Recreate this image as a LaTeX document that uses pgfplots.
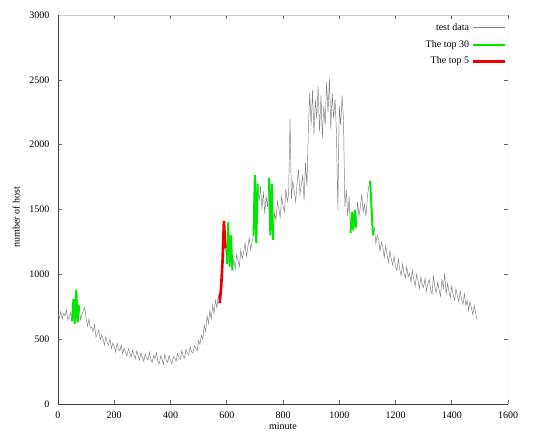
\documentclass[border=0pt]{standalone}
\usepackage{fontspec}
\setmainfont{Liberation Serif}
\usepackage{pgfplots}
\pgfplotsset{compat=1.18}
\definecolor{tdgray}{RGB}{128,128,128}
\definecolor{topgreen}{RGB}{0,230,0}
\definecolor{topred}{RGB}{235,0,0}
\newcommand{\smallfont}{\fontsize{7.5}{9}\selectfont}

\begin{document}
\begin{tikzpicture}
\begin{axis}[
  width=337.5pt, height=291.75pt, scale only axis,
  xmin=0, xmax=1600, ymin=0, ymax=3000,
  xtick={0,200,...,1600}, ytick={0,500,...,3000},
  /pgf/number format/assume math mode=true,
  /pgf/number format/1000 sep={},
  tick label style={font=\smallfont},
  xticklabel style={yshift=-2.5pt},
  yticklabel style={xshift=-3pt},
  tick align=inside, major tick length=3pt,
  tick style={black!60, line width=0.4pt},
  axis line style={draw=none},
  xlabel={minute}, ylabel={number of host},
  label style={font=\smallfont},
  xlabel style={at={(axis description cs:0.5,-0.046)}, anchor=north, inner sep=0.5pt},
  ylabel style={at={(axis description cs:-0.093,0.48)}, anchor=center},
  unbounded coords=jump,
  legend style={draw=none, fill=none, font=\smallfont,
    at={(axis description cs:1.0,0.99)}, anchor=north east,
    row sep=2pt, inner sep=1pt},
  legend cell align=right,
  legend plot pos=right,
  legend image code/.code={\draw[#1] (0pt,0pt) -- (24pt,0pt);},
]
\draw[black!20, line width=0.5pt] (rel axis cs:0,1) -- (rel axis cs:1,1) -- (rel axis cs:1,0);
\draw[black!75, line width=0.6pt] (rel axis cs:0,1) -- (rel axis cs:0,0) -- (rel axis cs:1,0);

% test data, one value every 5 minutes
\addplot[tdgray, line width=0.35pt] coordinates {
(0,690) (5,660) (10,715) (15,655) (20,700) (25,680) (30,725) (35,650) (40,675) (45,705)
(50,640) (55,810) (60,620) (65,880) (70,630) (75,760) (80,650)
(85,690) (90,720) (95,745) (100,660)
(105,600) (110,655) (115,585) (120,590) (125,560) (130,610) (135,515) (140,540) (145,570)
(150,495) (155,530) (160,505) (165,455) (170,520) (175,470) (180,455) (185,505) (190,430)
(195,470) (200,445) (205,400) (210,470) (215,420) (220,410) (225,455) (230,385) (235,430)
(240,400) (245,370) (250,425) (255,395) (260,360) (265,415) (270,375) (275,350) (280,410)
(285,370) (290,340) (295,395) (300,360) (305,330) (310,385) (315,355) (320,340) (325,400)
(330,345) (335,320) (340,375) (345,350) (350,395) (355,330) (360,310) (365,370) (370,345)
(375,305) (380,385) (385,340) (390,320) (395,375) (400,335) (405,310) (410,365) (415,355)
(420,330) (425,390) (430,360) (435,345) (440,410) (445,370) (450,355) (455,420) (460,390)
(465,380) (470,440) (475,400) (480,395) (485,450) (490,430) (495,410) (500,490)
(505,460) (510,530) (515,500) (520,610) (525,560) (530,680) (535,620) (540,720) (545,660)
(550,760) (555,700) (560,800) (565,740) (570,840) (575,780)
(580,900) (585,1100) (590,1410) (595,1200)
(600,1080) (605,1400) (610,1060) (615,1300) (620,1030)
(625,1120) (630,1040) (635,1150) (640,1110) (645,1060) (650,1190) (655,1120) (660,1170)
(665,1240) (670,1140) (675,1210) (680,1280) (685,1190) (690,1250)
(695,1300) (700,1765) (705,1240) (710,1700)
(715,1560) (720,1680) (725,1500) (730,1640) (735,1470) (740,1600) (745,1520)
(750,1745) (755,1300) (760,1700) (765,1265)
(770,1480) (775,1420) (780,1560) (785,1510) (790,1440) (795,1600) (800,1530) (805,1480)
(810,1660) (815,1560) (820,1620) (825,2200)
(830,1580) (835,1720) (840,1640) (845,1560) (850,1700) (855,1810) (860,1620) (865,1690)
(870,1760) (875,1570) (880,1860) (885,1680)
(890,2100) (895,2400) (900,2150) (905,2420) (910,2080) (915,2350) (920,2200) (925,2450)
(930,2100) (935,2380) (940,2050) (945,2300) (950,2150) (955,2480) (960,2250) (965,2510)
(970,2120) (975,2400) (980,2200) (985,2350) (990,2100) (995,1500) (1000,2300) (1005,2150)
(1010,2380) (1015,2200)
(1020,1520) (1025,1650) (1030,1450) (1035,1600)
(1040,1320) (1045,1480) (1050,1340) (1055,1495) (1060,1360)
(1065,1560) (1070,1450) (1075,1520) (1080,1620) (1085,1480) (1090,1540) (1095,1450)
(1100,1600) (1105,1680)
(1110,1720) (1115,1500) (1120,1300)
(1125,1360) (1130,1240) (1135,1300) (1140,1270) (1145,1180) (1150,1250) (1155,1210)
(1160,1130) (1165,1220) (1170,1150) (1175,1090) (1180,1180) (1185,1120) (1190,1070)
(1195,1140) (1200,1060) (1205,1030) (1210,1120) (1215,1040) (1220,990) (1225,1080)
(1230,1010) (1235,970) (1240,1060) (1245,980) (1250,1010) (1255,940) (1260,1030)
(1265,960) (1270,910) (1275,1000) (1280,950) (1285,890) (1290,980) (1295,920) (1300,900)
(1305,970) (1310,870) (1315,930) (1320,960) (1325,880) (1330,850) (1335,990) (1340,900)
(1345,860) (1350,940) (1355,880) (1360,830) (1365,960) (1370,890) (1375,1010) (1380,850)
(1385,930) (1390,870) (1395,820) (1400,910) (1405,840) (1410,800) (1415,890) (1420,830)
(1425,790) (1430,870) (1435,810) (1440,770) (1445,850) (1450,760) (1455,800) (1460,720)
(1465,790) (1470,740) (1475,690) (1480,760) (1485,700) (1490,650)
};
\addlegendentry{test data}

% the 30 highest-ranked stretches
\addplot[topgreen, line width=1.5pt] coordinates {
(50,640) (55,810) (60,620) (65,880) (70,630) (75,760) (77,nan)
(600,1080) (605,1400) (610,1060) (615,1300) (620,1030) (622,nan)
(695,1300) (700,1765) (705,1240) (710,1700) (712,nan)
(750,1745) (755,1300) (760,1700) (765,1265) (767,nan)
(1040,1320) (1045,1480) (1050,1340) (1055,1495) (1060,1360) (1062,nan)
(1110,1720) (1115,1500) (1120,1300)
};
\addlegendentry{The top 30}

% the 5 highest-ranked stretch
\addplot[topred, line width=2pt] coordinates {
(575,780) (580,900) (585,1100) (590,1410) (595,1200)
};
\addlegendentry{The top 5}
\end{axis}
\pgfresetboundingbox
\useasboundingbox (-43.5pt,-21pt) rectangle (360.75pt,303pt);
\end{tikzpicture}
\end{document}
